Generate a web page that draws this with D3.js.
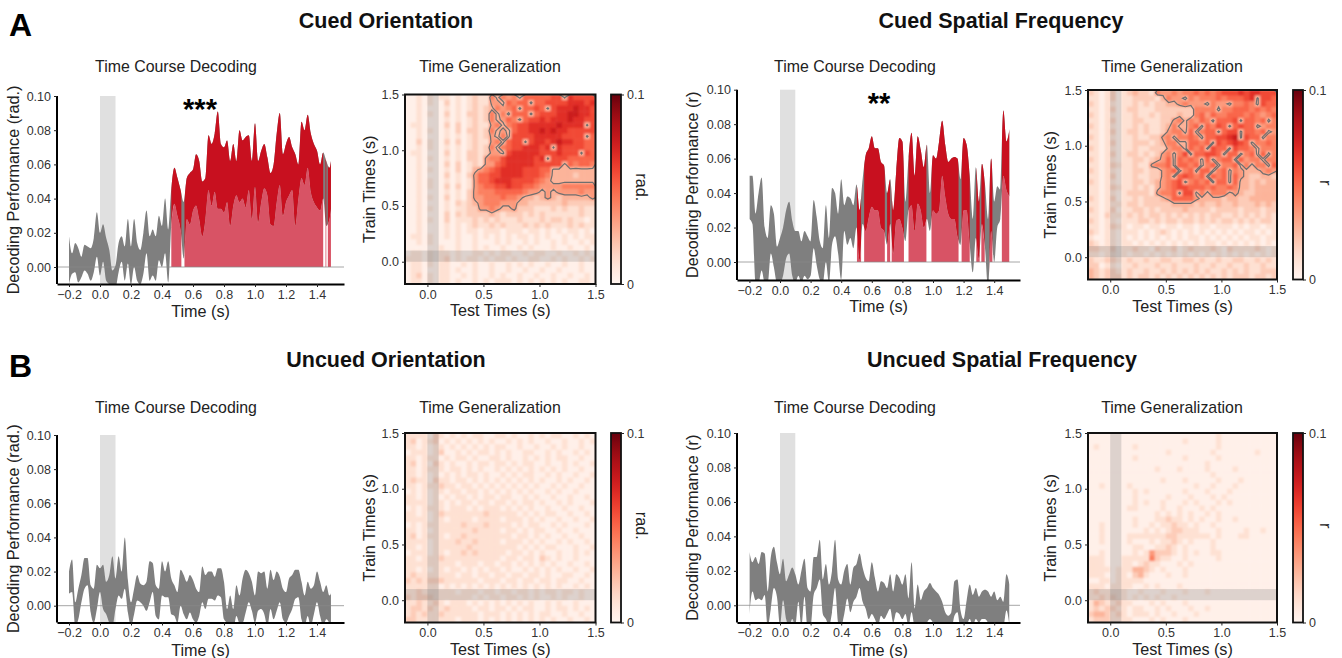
<!DOCTYPE html>
<html>
<head>
<meta charset="utf-8">
<script src="https://cdn.jsdelivr.net/npm/d3@7"></script>
<style>
html,body{margin:0;padding:0;background:#fff;}
svg{display:block;font-family:"Liberation Sans",Arial,sans-serif;}
</style>
</head>
<body>
<svg id="fig" width="1342" height="658"></svg>
<script>
// ---------- shared labels ----------
const groupTitles = ["Cued Orientation","Cued Spatial Frequency","Uncued Orientation","Uncued Spatial Frequency"];
const subTitles = ["Time Course Decoding","Time Generalization"];
const timeTicks = [-0.2,0,0.2,0.4,0.6,0.8,1.0,1.2,1.4];
const perfTicks = [0,0.02,0.04,0.06,0.08,0.10];
const heatTicks = [0,0.5,1.0,1.5];
const cueWindow = [0,0.1];

// time samples of every course, -0.20 s to 1.50 s in steps of 0.02 s
const times = [-0.20,-0.18,-0.16,-0.14,-0.12,-0.10,-0.08,-0.06,-0.04,-0.02,
 0.00,0.02,0.04,0.06,0.08,0.10,0.12,0.14,0.16,0.18,
 0.20,0.22,0.24,0.26,0.28,0.30,0.32,0.34,0.36,0.38,
 0.40,0.42,0.44,0.46,0.48,0.50,0.52,0.54,0.56,0.58,
 0.60,0.62,0.64,0.66,0.68,0.70,0.72,0.74,0.76,0.78,
 0.80,0.82,0.84,0.86,0.88,0.90,0.92,0.94,0.96,0.98,
 1.00,1.02,1.04,1.06,1.08,1.10,1.12,1.14,1.16,1.18,
 1.20,1.22,1.24,1.26,1.28,1.30,1.32,1.34,1.36,1.38,
 1.40,1.42,1.44,1.46,1.48,1.50];

// ---------- time course values, in thousandths ----------
const cuedOriUpper = [18,8,14,11,6,13,12,11,17,32,
 20,25,17,10,-2,1,14,18,12,28,
 12,28,14,10,20,33,18,22,18,30,
 24,40,22,46,58,52,45,38,52,55,
 57,66,62,50,52,77,72,78,91,72,
 70,74,62,72,62,80,74,76,77,62,
 84,62,68,72,64,55,60,78,90,66,
 72,76,70,66,60,85,80,89,78,72,
 68,60,67,62,58,70];
const cuedOriLower = [-10,-4,-3,-9,-6,-2,-4,-8,-3,6,
 -5,3,-8,-10,-12,-12,-3,3,-8,2,
 -10,0,-8,-10,-4,8,-8,-5,-8,4,
 0,8,-9,25,37,30,22,5,28,25,
 33,36,28,18,28,45,36,44,34,34,
 32,38,24,36,42,38,40,35,45,28,
 47,26,38,46,42,25,24,38,48,30,
 38,42,45,24,40,52,48,58,44,38,
 35,33,40,24,28,42];
const cuedOriSig = [[0.46,0.525],[0.545,1.44],[1.455,1.46],[1.47,1.49]];

const cuedSfUpper = [50,50,28,40,49,20,14,33,28,9,
 14,20,30,35,24,18,18,12,18,15,
 12,36,26,12,8,33,14,43,40,28,
 48,33,38,37,33,45,30,48,62,66,
 73,66,66,58,56,40,48,30,53,72,
 70,35,60,75,50,73,65,55,68,40,
 62,60,70,82,68,58,60,61,60,48,
 72,68,50,25,55,35,57,45,25,60,
 35,44,42,88,70,77];
const cuedSfLower = [25,22,-12,-12,-5,-12,-12,5,-3,-12,
 -12,-8,2,5,-8,-12,-8,-12,-8,-10,
 -8,8,-2,-10,-12,0,-12,10,15,5,
 -10,18,10,14,8,20,1,22,18,26,
 32,30,30,20,18,10,22,5,24,25,
 20,12,30,33,18,34,30,20,25,18,
 30,28,30,50,38,28,25,25,15,10,
 30,30,10,-6,14,2,22,8,-15,18,
 0,20,25,50,42,38];
const cuedSfSig = [[0.503,0.53],[0.55,0.685],[0.70,0.72],[0.73,0.81],[0.84,0.957],[0.99,1.167],[1.187,1.24],[1.283,1.305],[1.316,1.338],[1.37,1.388],[1.45,1.50]];

const uncuedOriUpper = [20,27,2,10,18,28,28,12,10,24,
 22,24,14,18,29,16,29,20,40,15,
 2,10,18,13,12,14,26,25,12,10,
 26,20,26,16,12,8,21,18,14,18,
 15,10,8,23,18,20,20,17,22,22,
 14,-2,6,-2,12,6,16,21,19,14,
 6,20,19,20,10,21,15,20,17,10,
 8,16,18,21,21,14,6,14,10,12,
 20,14,8,12,6,10];
const uncuedOriLower = [7,8,-12,-8,2,10,12,-4,-10,-2,
 8,-2,-5,-10,-12,-2,6,4,10,-4,
 -12,-5,3,2,0,-3,2,8,-6,-8,
 6,5,5,-5,-6,-10,0,-5,-8,-4,
 -8,-10,-6,2,-2,4,4,3,6,5,
 -8,-10,-12,-14,-6,-10,-10,-4,2,-3,
 -10,-3,-2,-5,-12,-2,-8,-3,2,-8,
 -10,-6,-2,4,5,-8,-12,-6,-12,-5,
 2,-6,-12,-8,-10,-12];

const uncuedSfUpper = [31,25,28,24,31,30,8,28,34,25,
 18,27,14,18,22,18,12,20,27,10,
 8,28,28,38,15,24,12,20,38,15,
 12,20,24,12,22,24,30,22,16,14,
 25,16,8,14,13,10,18,8,18,16,
 12,18,4,25,-2,12,3,8,10,13,
 10,8,6,2,-4,-6,-4,14,15,-3,
 -8,3,12,6,10,5,8,9,8,5,
 8,3,5,2,18,12];
const uncuedSfLower = [-5,8,3,4,3,6,-12,-2,10,5,
 -12,3,-8,-12,-8,-12,2,-12,5,-12,
 -12,6,10,15,-5,-8,-12,-4,10,-10,
 -12,-5,4,-4,2,5,10,2,-2,-8,
 -5,-8,-12,-6,-8,-5,-2,-10,-4,-5,
 -8,-5,-12,-4,-12,-12,-12,-12,-10,-8,
 -10,-12,-12,-12,-14,-14,-14,-6,-4,-14,
 -14,-12,-8,-12,-8,-10,-8,-8,-10,-12,
 -10,-12,-10,-12,-3,-12];

// ---------- generalization matrices: one digit per 0.05 s cell, top row = train 1.45 s ----------
const cuedOriHeat = [
"00101 01101 01211 53545 36666 67738 7777","00101 00201 01211 44365 66366 77778 8878",
"00100 00101 01212 35456 36676 37888 9887","00101 00201 02212 53536 66367 77889 9887",
"00100 00101 01212 53465 36778 78889 8877","01100 00202 01211 45356 77888 88988 8837",
"00101 00102 02212 53436 77889 89887 7777","00100 00101 01212 43537 77788 88877 7736",
"00201 00202 01211 45367 73788 78988 7766","00101 00101 01212 53567 78887 83877 7766",
"01100 00201 02212 44378 88887 77877 7376","00101 00101 02214 55788 88878 37776 6666",
"00100 00202 01214 46788 88877 77736 5665","00101 00102 01345 67888 87776 63333 3333",
"00100 00201 02466 77888 87776 53333 2333","00101 00101 01466 78887 77765 43333 3333",
"00101 00202 01456 67787 76654 44455 5555","00100 00101 02455 56666 65443 43444 4544",
"00101 00201 02445 55655 43323 43233 3334","00100 00102 12345 55444 33222 22232 2222",
"00101 00101 12244 54334 22211 12121 1211","00100 00202 12222 32122 21212 11111 1211",
"00101 00201 11212 12111 21112 12212 1101","00100 00101 01211 21211 12121 21112 1211",
"00100 00101 01101 11011 10110 10101 1010","01101 00101 00101 01010 11010 10010 1011",
"00101 00001 00100 01010 01010 01010 0101","00000 01001 00101 00100 10100 01001 0010",
"01101 01101 00110 10110 01011 00100 1010","11101 01201 01101 01101 00110 01010 0101",
"01101 01100 10100 10010 10100 10010 0100","01100 01101 00100 10010 01001 00100 0100",
"01201 01100 10100 10100 10010 01001 0010","01101 01101 00101 01110 10101 01010 0110"];

const cuedSfHeat = [
"21012 01232 21544 54556 56567 77878 8777","11012 01122 22135 44354 55565 66678 3776",
"21011 01121 21223 34544 43544 35565 3766","11012 01221 11222 22225 55535 56665 6565",
"21011 01121 12122 23225 64655 66656 5456","11012 01122 11122 45354 65366 67366 5635",
"21011 01121 21123 53356 36576 36766 3455","11012 01221 21124 55363 56636 77366 5634",
"21011 01121 12245 35565 36677 89376 6355","11012 01122 21235 53366 56376 78763 5565",
"21011 01121 12224 55365 63766 37665 3555","11012 01221 21245 35736 67763 66356 3635",
"21011 01122 12346 36565 36356 63645 5355","11012 11121 14556 36656 35635 56353 5536",
"21011 01122 12245 63563 66356 35433 3454","11012 01121 12245 36765 63656 36432 2332",
"21011 01122 12345 67356 56366 36332 3233","11012 11121 21345 67766 65655 65332 3333",
"11011 01222 21455 63773 53555 34322 3333","21012 01121 22234 66664 33332 33223 3333",
"11011 11221 22222 33332 32232 23222 3232","21012 01122 12122 22322 22122 22122 2122",
"11021 11212 12212 12121 21221 12121 2121","21011 01112 21212 21221 21212 21212 1221",
"11012 11011 01101 10110 11011 10101 1011","21011 01110 10121 01010 10101 01011 0101",
"10011 01010 10101 01011 01010 10101 1011","21011 01101 01010 10101 01101 01010 1010",
"22112 01121 10211 20121 11210 21111 2101","11011 01011 01010 10101 01010 10101 0101",
"21122 11211 21122 11221 21121 12211 2121","22011 01121 11211 21112 11211 21121 1211",
"32122 11211 21121 21212 12112 12121 1222","32122 21212 21212 12121 21212 12221 2212"];

const uncuedOriHeat = [
"11110 21010 10110 01101 00101 01100 1010","12011 20101 01010 10010 10100 10010 0101",
"11010 11010 10101 01100 10010 01010 0100","01110 12001 01011 01010 01100 10100 1010",
"11011 10101 10100 11010 01010 10110 0100","12010 21010 01011 01101 01100 10010 1001",
"11011 11011 01010 01010 10101 01010 0100","11010 10101 01101 00101 01100 10100 1001",
"12110 21101 10101 01010 10101 00101 0010","11011 12110 11010 10101 01010 01010 0100",
"01010 11011 01101 01010 10100 10100 1000","11010 10101 10101 10110 01010 01001 0010",
"11110 11010 11011 01101 01101 00101 0001","01011 11011 10101 11010 10100 10010 0100",
"11010 12111 11112 11111 01010 11001 0010","11110 11011 11011 11011 10101 00100 1001",
"01011 11111 21112 11110 10110 01010 0010","11010 11111 11211 11011 01011 00100 1000",
"12011 11011 21111 11110 11010 10010 0100","11110 11112 11211 11011 10101 00101 0010",
"11010 11111 12111 11111 01010 11000 1001","01110 11011 21211 11101 10101 00100 1010",
"11011 12111 11111 11011 01102 10100 1000","11111 11110 11101 10110 10101 01001 0010",
"11010 11011 01010 11010 01010 10100 1001","12111 11110 11011 01101 10110 10011 0010",
"21212 22111 11101 11011 01101 10110 0100","11111 10101 01010 10101 01010 10100 1010",
"11211 11110 11101 10110 11010 11011 0100","21222 11111 11010 11011 01010 01010 0100",
"11211 21011 10101 01010 10100 10100 1000","12212 11211 11011 01101 01100 10110 1010",
"12121 12111 11101 11010 10101 10010 0100","22111 11110 11101 01010 10101 01001 0010"];

const uncuedSfHeat = [
"00000 00000 00000 00000 00010 00000 0000","00000 00000 00000 00100 00010 00000 0000",
"01000 00010 00000 00000 00010 00000 0000","00000 00000 00001 00000 00100 00000 1000",
"00000 00010 00000 00100 00010 00000 0000","00000 00000 00000 00000 01000 00000 0000",
"00000 00000 00100 01000 01000 01000 0000","00000 00000 00000 00000 00100 00000 0000",
"00000 00000 00010 00100 00010 00100 0000","00100 00100 00000 00001 00100 01000 0000",
"00000 00010 10000 00100 01000 10000 0000","00000 00010 00001 00010 00101 00000 0000",
"00000 00010 10010 00101 00010 10000 0000","00000 00110 00010 01000 10100 00000 0000",
"00000 00000 00101 01010 01010 00000 0000","00000 00010 00112 11010 10010 01000 0000",
"00100 00010 01011 21101 00100 00000 0000","00100 00000 10101 22111 00010 00010 0100",
"00100 00111 11112 21111 11010 00110 0000","00100 00100 01011 21010 00100 00000 0000",
"00000 00011 00112 10100 00100 00000 0000","00100 00010 14222 10101 00110 00000 0000",
"11100 01111 15211 00100 00010 00000 0000","11100 01101 21100 01010 00000 00000 0000",
"11110 11133 21010 00100 00000 00000 0000","11100 11023 10001 00100 00000 00000 0000",
"00110 11111 00000 00000 00000 00000 0000","11101 11100 10100 01000 00000 00000 0000",
"12111 11001 00010 00100 01000 00000 0000","11212 11010 10100 10000 00000 00000 0000",
"13211 21100 01010 00100 00000 00000 0000","12122 11011 00101 00010 01000 00000 0000",
"23321 21011 10100 10001 00000 00000 0000","12221 11100 01010 00100 00000 00000 0000"];

// ---------- layout ----------
const coursePanels = [
 {upper:cuedOriUpper, lower:cuedOriLower, sig:cuedOriSig, unit:"rad.", x0:57, x1:344, tx0:100, pxPerS:155, yTop:96, yZero:267, yBot:284, labX:19, end:1.49, stars:"***", starX:200, starY:119},
 {upper:cuedSfUpper, lower:cuedSfLower, sig:cuedSfSig, unit:"r", x0:737, x1:1020, tx0:780, pxPerS:153, yTop:89.7, yZero:262, yBot:280, labX:698, end:1.50, stars:"**", starX:879, starY:113},
 {upper:uncuedOriUpper, lower:uncuedOriLower, sig:[], unit:"rad.", x0:57, x1:344, tx0:100, pxPerS:155, yTop:435, yZero:605.7, yBot:622.5, labX:19, end:1.49},
 {upper:uncuedSfUpper, lower:uncuedSfLower, sig:[], unit:"r", x0:737, x1:1020, tx0:780, pxPerS:153, yTop:433, yZero:605.3, yBot:622.5, labX:698, end:1.50}
];
const heatPanels = [
 {rows:cuedOriHeat, unit:"rad.", x0:405, x1:595.5, y0:94.5, y1:284, labX:375, cbX:611, unitX:636, contour:true},
 {rows:cuedSfHeat, unit:"r", x0:1088, x1:1277, y0:90, y1:279.5, labX:1056, cbX:1293, unitX:1320, contour:true},
 {rows:uncuedOriHeat, unit:"rad.", x0:405, x1:595.5, y0:433, y1:622.5, labX:375, cbX:611, unitX:636, contour:false},
 {rows:uncuedSfHeat, unit:"r", x0:1088, x1:1277, y0:433, y1:622.5, labX:1056, cbX:1293, unitX:1320, contour:false}
];
const titleSpots = [[386,28],[1001,28],[386,367],[1002,367]];
const subSpots = [[[176,72],[490,72]],[[855,72],[1172,72]],[[176,413],[490,413]],[[855,413],[1172,413]]];

const svg = d3.select("#fig");
const defs = svg.append("defs");
const inkAxis = "#333", fontTick = 12.5, fontLabel = 16.2;

defs.append("filter").attr("id","soft").attr("x","-5%").attr("y","-5%").attr("width","110%").attr("height","110%")
  .append("feGaussianBlur").attr("stdDeviation",0.9);

const cbGrad = defs.append("linearGradient").attr("id","cbGrad").attr("x1",0).attr("x2",0).attr("y1",1).attr("y2",0);
d3.range(0,1.001,0.05).forEach(t=>cbGrad.append("stop").attr("offset",t).attr("stop-color",d3.interpolateReds(t)));

// panel letters and titles
[["A",9,36],["B",9,377]].forEach(([s,x,y])=>svg.append("text").attr("x",x).attr("y",y)
  .attr("font-size",32).attr("font-weight","bold").attr("fill","#000").text(s));
groupTitles.forEach((s,i)=>svg.append("text").attr("x",titleSpots[i][0]).attr("y",titleSpots[i][1])
  .attr("text-anchor","middle").attr("font-size",21.5).attr("font-weight","bold").attr("fill","#111").text(s));
subSpots.forEach(pair=>pair.forEach((p,j)=>svg.append("text").attr("x",p[0]).attr("y",p[1])
  .attr("text-anchor","middle").attr("font-size",15.9).attr("fill","#222").text(subTitles[j])));

function styleAxis(g, width){
  g.selectAll("text").attr("font-size",fontTick).attr("fill",inkAxis).attr("font-family","inherit");
  g.selectAll(".tick line").attr("stroke","#222").attr("stroke-width",1);
  g.select(".domain").attr("stroke","#000").attr("stroke-width",width);
}

// time course panels
coursePanels.forEach((p,i)=>{
  const x = d3.scaleLinear().domain([(p.x0-p.tx0)/p.pxPerS,(p.x1-p.tx0)/p.pxPerS]).range([p.x0,p.x1]);
  const y = d3.scaleLinear().domain([0,0.1]).range([p.yZero,p.yTop]);
  const pts = times.map((t,k)=>({t,u:p.upper[k]/1000,l:p.lower[k]/1000}));
  if(p.upper.length!==times.length||p.lower.length!==times.length) throw new Error("course length "+i);
  const g = svg.append("g");

  g.append("rect").attr("x",x(cueWindow[0])).attr("width",x(cueWindow[1])-x(cueWindow[0]))
    .attr("y",p.yTop).attr("height",p.yBot-p.yTop).attr("fill","#e0e0e0");

  const clipId = "plot"+i;
  defs.append("clipPath").attr("id",clipId).append("rect")
    .attr("x",x(-0.2)).attr("width",x(p.end)-x(-0.2)).attr("y",p.yTop).attr("height",p.yBot-p.yTop);
  const band = d3.area().curve(d3.curveMonotoneX).x(d=>x(d.t)).y0(d=>y(d.l)).y1(d=>y(d.u));
  g.append("path").datum(pts).attr("clip-path",`url(#${clipId})`).attr("fill","#7f7f7f").attr("d",band);

  if(p.sig.length){
    const sigId = "sig"+i;
    defs.append("clipPath").attr("id",sigId).selectAll("rect").data(p.sig).join("rect")
      .attr("x",d=>x(d[0])).attr("width",d=>x(d[1])-x(d[0])).attr("y",p.yTop).attr("height",p.yBot-p.yTop);
    const under = d3.area().curve(d3.curveMonotoneX).x(d=>x(d.t)).y0(y(0)).y1(d=>y(Math.max(d.l,0)));
    g.append("path").datum(pts).attr("clip-path",`url(#${sigId})`).attr("fill","#d85365").attr("d",under);
    g.append("path").datum(pts).attr("clip-path",`url(#${sigId})`).attr("fill","#c8101f").attr("d",band);
  }
  g.append("line").attr("x1",p.x0).attr("x2",p.x1).attr("y1",y(0)).attr("y2",y(0))
    .attr("stroke","#888").attr("stroke-opacity",0.75).attr("stroke-width",1);

  const ax = g.append("g").attr("transform",`translate(0,${p.yBot})`)
    .call(d3.axisBottom(x).tickValues(timeTicks).tickFormat(d3.format(".1f")).tickSize(3).tickSizeOuter(0).tickPadding(3));
  styleAxis(ax,2);
  const ay = g.append("g").attr("transform",`translate(${p.x0},0)`)
    .call(d3.axisLeft(y).tickValues(perfTicks).tickFormat(d3.format(".2f")).tickSize(3).tickPadding(3));
  ay.select(".domain").attr("d",`M0,${p.yTop}V${p.yBot}`);
  styleAxis(ay,2);

  g.append("text").attr("x",(p.x0+p.x1)/2).attr("y",p.yBot+33-(i===1?1:0)).attr("text-anchor","middle")
    .attr("font-size",fontLabel).attr("fill","#222").text("Time (s)");
  g.append("text").attr("transform",`translate(${p.labX},${(p.yTop+p.yBot)/2}) rotate(-90)`).attr("text-anchor","middle")
    .attr("font-size",fontLabel).attr("fill","#222").text(`Decoding Performance (${p.unit})`);
  if(p.stars) g.append("text").attr("x",p.starX).attr("y",p.starY).attr("text-anchor","middle")
    .attr("font-size",29).attr("font-weight","bold").attr("fill","#000").text(p.stars);
});

// generalization panels
const heatColor = d => d3.interpolateReds(0.03 + d*0.08);
const contourLevel = 3.5;
heatPanels.forEach((p,i)=>{
  const grid = p.rows.map(r=>r.replace(/ /g,"").split("").map(Number));
  grid.forEach(r=>{ if(r.length!==34) throw new Error("heat row length "+i); });
  if(grid.length!==34) throw new Error("heat rows "+i);
  const x = d3.scaleLinear().domain([-0.2,1.5]).range([p.x0,p.x1]);
  const y = d3.scaleLinear().domain([-0.2,1.5]).range([p.y1,p.y0]);
  const g = svg.append("g");
  const clipId = "heat"+i;
  defs.append("clipPath").attr("id",clipId).append("rect")
    .attr("x",p.x0).attr("y",p.y0).attr("width",p.x1-p.x0).attr("height",p.y1-p.y0);
  const clipped = g.append("g").attr("clip-path",`url(#${clipId})`);
  const cells = grid.flatMap((r,ri)=>r.map((v,ci)=>({t:-0.2+ci*0.05,train:1.45-ri*0.05,v})));
  clipped.append("g").attr("filter","url(#soft)").selectAll("rect").data(cells).join("rect")
    .attr("x",d=>x(d.t)).attr("y",d=>y(d.train+0.05))
    .attr("width",x(0.05)-x(0)+0.5).attr("height",y(0)-y(0.05)+0.5)
    .attr("fill",d=>heatColor(d.v));

  clipped.append("rect").attr("x",x(cueWindow[0])).attr("width",x(cueWindow[1])-x(cueWindow[0]))
    .attr("y",p.y0).attr("height",p.y1-p.y0).attr("fill","#808080").attr("fill-opacity",0.27);
  clipped.append("rect").attr("y",y(cueWindow[1])).attr("height",y(cueWindow[0])-y(cueWindow[1]))
    .attr("x",p.x0).attr("width",p.x1-p.x0).attr("fill","#808080").attr("fill-opacity",0.27);

  if(p.contour){
    const cs = d3.contours().size([34,34]).smooth(true).thresholds([contourLevel])(grid.flat());
    const proj = d3.geoTransform({point(px,py){ this.stream.point(x(-0.2+px*0.05), y(1.5-py*0.05)); }});
    clipped.selectAll("path.c").data(cs).join("path").attr("class","c")
      .attr("d",d3.geoPath(proj)).attr("fill","none").attr("stroke","#6f6f6f").attr("stroke-width",1.2);
  }

  g.append("rect").attr("x",p.x0).attr("y",p.y0).attr("width",p.x1-p.x0).attr("height",p.y1-p.y0)
    .attr("fill","none").attr("stroke","#111").attr("stroke-width",2);

  const ax = g.append("g").attr("transform",`translate(0,${p.y1})`)
    .call(d3.axisBottom(x).tickValues(heatTicks).tickFormat(d3.format(".1f")).tickSize(3).tickSizeOuter(0).tickPadding(3));
  ax.select(".domain").remove(); styleAxis(ax,0);
  const ay = g.append("g").attr("transform",`translate(${p.x0},0)`)
    .call(d3.axisLeft(y).tickValues(heatTicks).tickFormat(d3.format(".1f")).tickSize(3).tickSizeOuter(0).tickPadding(3));
  ay.select(".domain").remove(); styleAxis(ay,0);

  g.append("text").attr("x",(p.x0+p.x1)/2).attr("y",p.y1+32).attr("text-anchor","middle")
    .attr("font-size",fontLabel).attr("fill","#222").text("Test Times (s)");
  g.append("text").attr("transform",`translate(${p.labX},${(p.y0+p.y1)/2}) rotate(-90)`).attr("text-anchor","middle")
    .attr("font-size",fontLabel).attr("fill","#222").text("Train Times (s)");

  // colour bar
  const cb = d3.scaleLinear().domain([0,0.1]).range([p.y1,p.y0]);
  g.append("rect").attr("x",p.cbX).attr("y",p.y0).attr("width",10).attr("height",p.y1-p.y0)
    .attr("fill","url(#cbGrad)").attr("stroke","#111").attr("stroke-width",1.8);
  const acb = g.append("g").attr("transform",`translate(${p.cbX+10},0)`)
    .call(d3.axisRight(cb).tickValues([0,0.1]).tickFormat(d=>d===0?"0":"0.1").tickSize(3).tickPadding(3));
  acb.select(".domain").remove(); styleAxis(acb,0);
  g.append("text").attr("transform",`translate(${p.unitX},${(p.y0+p.y1)/2-2}) rotate(90)`).attr("text-anchor","middle")
    .attr("font-size",fontLabel).attr("fill","#222").text(p.unit);
});
</script>
</body>
</html>
